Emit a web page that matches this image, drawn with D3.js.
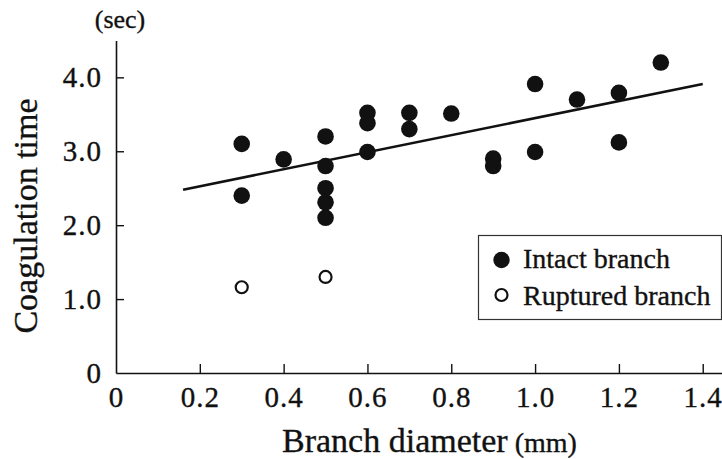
<!DOCTYPE html>
<html>
<head>
<meta charset="utf-8">
<script src="https://cdn.jsdelivr.net/npm/d3@7/dist/d3.min.js"></script>
<style>
  html, body { margin: 0; padding: 0; background: #fff; }
  svg { display: block; font-family: "Liberation Serif", "Times New Roman", serif; }
  svg text { stroke: #111; stroke-width: 0.35px; }
</style>
</head>
<body>
<svg id="chart" width="722" height="459"></svg>
<script>
// intact branches (filled dots)
const intactDiameter = [0.3, 0.3, 0.4, 0.5, 0.5, 0.5, 0.5, 0.5, 0.6, 0.6, 0.6, 0.7, 0.7, 0.8, 0.9, 0.9, 1.0, 1.0, 1.1, 1.2, 1.2, 1.3];
const intactTime     = [3.1, 2.4, 2.89, 3.2, 2.8, 2.5, 2.31, 2.1, 3.52, 3.38, 2.99, 3.52, 3.3, 3.51, 2.9, 2.8, 3.91, 2.99, 3.7, 3.79, 3.12, 4.2];

// ruptured branches (open dots)
const rupturedDiameter = [0.3, 0.5];
const rupturedTime     = [1.16, 1.3];

// fitted line end points
const fitDiameter = [0.16, 1.40];
const fitTime     = [2.48, 3.91];

const xTicks = [0, 0.2, 0.4, 0.6, 0.8, 1.0, 1.2, 1.4];
const xTickLabels = ['0', '0.2', '0.4', '0.6', '0.8', '1.0', '1.2', '1.4'];
const yTicks = [0, 1, 2, 3, 4];
const yTickLabels = ['0', '1.0', '2.0', '3.0', '4.0'];

const legendLabels = ['Intact branch', 'Ruptured branch'];

const svg = d3.select('#chart');
const ink = '#111';

const x = d3.scaleLinear().domain([0, 1.446]).range([116, 722]);
const y = d3.scaleLinear().domain([0, 4.5]).range([373, 40.4]);

// x axis, ticks pointing inward
const xAxis = svg.append('g')
  .attr('transform', `translate(0,${y(0)})`)
  .call(d3.axisBottom(x)
    .tickValues(xTicks)
    .tickFormat((d, i) => xTickLabels[i])
    .tickSizeInner(-9)
    .tickSizeOuter(0)
    .tickPadding(13));

// y axis
const yAxis = svg.append('g')
  .attr('transform', `translate(${x(0)},0)`)
  .call(d3.axisLeft(y)
    .tickValues(yTicks)
    .tickFormat((d, i) => yTickLabels[i])
    .tickSizeInner(-8)
    .tickSizeOuter(0)
    .tickPadding(14));

[xAxis, yAxis].forEach(g => {
  g.attr('font-family', null).attr('font-size', null);
  g.select('.domain').attr('stroke', ink).attr('stroke-width', 1.6);
  g.selectAll('.tick line').attr('stroke', ink).attr('stroke-width', 1.4);
  g.selectAll('.tick text')
    .attr('fill', ink)
    .attr('font-family', '"Liberation Serif", serif')
    .attr('font-size', 29)
    .attr('letter-spacing', 1);
});
// zero ticks sit on the other axis, drop their lines
yAxis.selectAll('.tick').filter(d => d === 0).select('line').remove();
xAxis.selectAll('.tick').filter(d => d === 0).select('line').remove();

// fitted line
svg.append('line')
  .attr('x1', x(fitDiameter[0]))
  .attr('y1', y(fitTime[0]))
  .attr('x2', x(fitDiameter[1]))
  .attr('y2', y(fitTime[1]))
  .attr('stroke', ink)
  .attr('stroke-width', 2.6);

// intact dots
svg.append('g').selectAll('circle')
  .data(intactDiameter)
  .join('circle')
  .attr('cx', d => x(d))
  .attr('cy', (d, i) => y(intactTime[i]))
  .attr('r', 8.3)
  .attr('fill', ink);

// ruptured dots
svg.append('g').selectAll('circle')
  .data(rupturedDiameter)
  .join('circle')
  .attr('cx', d => x(d))
  .attr('cy', (d, i) => y(rupturedTime[i]))
  .attr('r', 6)
  .attr('fill', '#fff')
  .attr('stroke', ink)
  .attr('stroke-width', 2.2);

// axis titles
svg.append('text')
  .attr('x', 282)
  .attr('y', 452)
  .attr('fill', ink)
  .style('font-size', '34px')
  .text('Branch diameter')
  .append('tspan')
  .style('font-size', '28px')
  .text(' (mm)');

svg.append('text')
  .attr('transform', 'translate(37,216) rotate(-90)')
  .attr('text-anchor', 'middle')
  .attr('fill', ink)
  .style('font-size', '34px')
  .text('Coagulation time');

svg.append('text')
  .attr('x', 120)
  .attr('y', 28)
  .attr('text-anchor', 'middle')
  .attr('fill', ink)
  .style('font-size', '26px')
  .text('(sec)');

// legend
const legend = svg.append('g').attr('transform', 'translate(478,235)');
legend.append('rect')
  .attr('x', 0.5)
  .attr('y', 0.5)
  .attr('width', 243)
  .attr('height', 84)
  .attr('fill', '#fff')
  .attr('stroke', '#333')
  .attr('stroke-width', 1.2);

legend.append('circle')
  .attr('cx', 23.5).attr('cy', 25).attr('r', 8.2)
  .attr('fill', ink);
legend.append('circle')
  .attr('cx', 23.5).attr('cy', 60).attr('r', 6)
  .attr('fill', '#fff').attr('stroke', ink).attr('stroke-width', 2.2);

legend.selectAll('text.lab')
  .data(legendLabels)
  .join('text')
  .attr('class', 'lab')
  .attr('x', 45)
  .attr('y', (d, i) => 33 + i * 37)
  .attr('fill', ink)
  .style('font-size', '28px')
  .text(d => d);
</script>
</body>
</html>
